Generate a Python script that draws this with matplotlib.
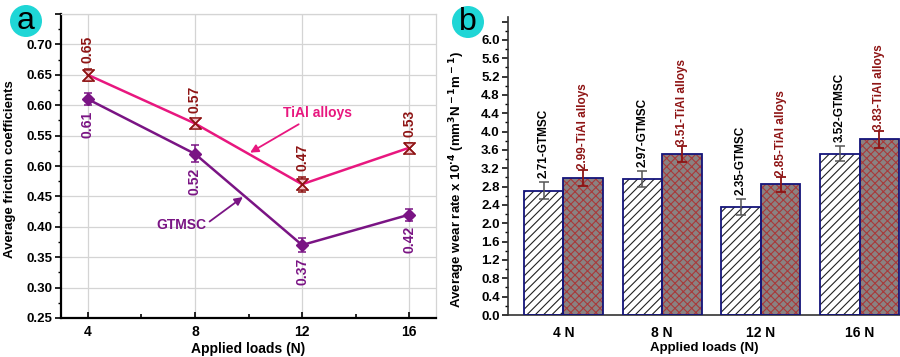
import matplotlib
matplotlib.use('Agg')
import matplotlib.pyplot as plt
import numpy as np
from matplotlib.path import Path
from matplotlib.patches import Ellipse
from matplotlib.ticker import MultipleLocator, FixedLocator

plt.rcParams['font.family'] = ['Liberation Sans', 'DejaVu Sans']
plt.rcParams['font.weight'] = 'bold'
plt.rcParams['hatch.linewidth'] = 0.8

# ---------------- data: panel a ----------------
loads = [4, 8, 12, 16]
tial_cof = [0.65, 0.57, 0.47, 0.53]
tial_cof_err = [0.010, 0.008, 0.012, 0.008]
gtmsc_cof = [0.61, 0.52, 0.37, 0.42]
gtmsc_cof_err = [0.010, 0.014, 0.012, 0.010]
cof_ticks = [0.25, 0.30, 0.35, 0.40, 0.45, 0.50, 0.55, 0.60, 0.65, 0.70, 0.75]
cof_ticklabels = ['0.25', '0.30', '0.35', '0.40', '0.45', '0.60', '0.55', '0.60', '0.65', '0.70', '']

# ---------------- data: panel b ----------------
load_labels = ['4 N', '8 N', '12 N', '16 N']
gtmsc_wear = [2.71, 2.97, 2.35, 3.52]
gtmsc_wear_err = [0.19, 0.17, 0.17, 0.17]
tial_wear = [2.99, 3.51, 2.85, 3.83]
tial_wear_err = [0.17, 0.17, 0.16, 0.18]
wear_ticks = [0.0, 0.4, 0.8, 1.2, 1.6, 2.0, 2.4, 2.8, 3.2, 3.6, 4.0, 4.4, 4.8, 5.2, 5.6, 6.0, 6.4]
wear_ticklabels = ['0.0', '0.4', '0.8', '1.2', '1.6', '2.0', '2.4', '2.8', '3.2', '3.6',
                   '4.0', '4.4', '4.8', '5.2', '5.6', '6.0', '']

PINK = '#e8177f'
PURPLE = '#7a1484'
DARKRED = '#8e1414'
NAVY = '#14147a'

fig = plt.figure(figsize=(9.0, 3.57), dpi=100)

# ================= panel a =================
ax1 = fig.add_axes([61/900, 1-318/357, 375/900, 304/357])
ax1.set_xlim(3, 17)
ax1.set_ylim(0.25, 0.75)
ax1.grid(True, color='#d4d4d4', lw=0.9, zorder=0)
ax1.set_axisbelow(True)

hourglass = Path([(-1, 1), (1, 1), (-1, -1), (1, -1), (-1, 1)],
                 [Path.MOVETO, Path.LINETO, Path.LINETO, Path.LINETO, Path.LINETO])

ax1.errorbar(loads, tial_cof, yerr=tial_cof_err, color=PINK, lw=1.8,
             ecolor=DARKRED, elinewidth=1.1, capsize=3, capthick=1.1,
             marker=hourglass, ms=8, mfc='#f0c0c8', mec=DARKRED, mew=1.1, zorder=3)
ax1.plot(loads, tial_cof, ls='none', marker='x', ms=8, mec=DARKRED, mew=1.0, zorder=4)
ax1.errorbar(loads, gtmsc_cof, yerr=gtmsc_cof_err, color=PURPLE, lw=1.8,
             ecolor=PURPLE, elinewidth=1.1, capsize=3, capthick=1.1,
             marker='D', ms=6.5, mfc=PURPLE, mec=PURPLE, zorder=3)

for x, y, e in zip(loads, tial_cof, tial_cof_err):
    ax1.annotate(f'{y:.2f}', (x, y + e), xytext=(0, 4), textcoords='offset points',
                 rotation=90, ha='center', va='bottom', color=DARKRED,
                 fontsize=10, fontweight='bold')
for x, y, e in zip(loads, gtmsc_cof, gtmsc_cof_err):
    ax1.annotate(f'{y:.2f}', (x, y - e), xytext=(0, -4), textcoords='offset points',
                 rotation=90, ha='center', va='top', color=PURPLE,
                 fontsize=10, fontweight='bold')

ax1.annotate('TiAl alloys', xy=(10.06, 0.522), xytext=(11.3, 0.587),
             color=PINK, fontsize=10, fontweight='bold', ha='left', va='center',
             arrowprops=dict(arrowstyle='-|>', color=PINK, lw=1.3, mutation_scale=12,
                             shrinkA=2, shrinkB=0))
ax1.annotate('GTMSC', xy=(9.79, 0.449), xytext=(7.51, 0.403),
             color=PURPLE, fontsize=10, fontweight='bold', ha='center', va='center',
             arrowprops=dict(arrowstyle='-|>', color=PURPLE, lw=1.3, mutation_scale=12,
                             shrinkA=0, shrinkB=0, relpos=(1.0, 0.6)))

ax1.xaxis.set_major_locator(FixedLocator(loads))
ax1.xaxis.set_minor_locator(FixedLocator([6, 10, 14]))
ax1.yaxis.set_major_locator(FixedLocator(cof_ticks))
ax1.set_yticklabels(cof_ticklabels)
ax1.yaxis.set_minor_locator(MultipleLocator(0.025))
ax1.tick_params(axis='x', which='both', direction='in', length=4, width=1.2, labelsize=10, pad=5)
ax1.tick_params(axis='x', which='minor', length=3)
ax1.tick_params(axis='y', which='major', direction='out', length=4, width=1.2, labelsize=9.5, pad=2)
ax1.tick_params(axis='y', which='minor', direction='out', length=2, width=1.0)
for lab in ax1.get_xticklabels() + ax1.get_yticklabels():
    lab.set_fontweight('bold')
for s in ['left', 'bottom']:
    ax1.spines[s].set_linewidth(1.6)
    ax1.spines[s].set_color('black')
for s in ['top', 'right']:
    ax1.spines[s].set_linewidth(0.9)
    ax1.spines[s].set_color('#d4d4d4')
ax1.set_xlabel('Applied loads (N)', fontsize=10, fontweight='bold', labelpad=2)
ax1.set_ylabel('Average friction coefficients', fontsize=9.5, fontweight='bold')
ax1.yaxis.set_label_coords(-0.12, 0.49)

# ================= panel b =================
ax2 = fig.add_axes([508/900, 1-315/357, 392/900, 298/357])
x = np.arange(len(load_labels))
w = 0.4
xg = x - w/2
xt = x + w/2

ax2.bar(xg, gtmsc_wear, w, color='white', edgecolor='#222222', hatch='////', lw=0, zorder=2)
ax2.bar(xg, gtmsc_wear, w, color='none', edgecolor=NAVY, lw=1.3, zorder=3)
ax2.bar(xt, tial_wear, w, color='#8a8282', edgecolor='none', lw=0, zorder=2)
ax2.bar(xt, tial_wear, w, color='none', edgecolor='#a83a3a', hatch='xxxx', lw=0, zorder=2.5)
ax2.bar(xt, tial_wear, w, color='none', edgecolor=NAVY, lw=1.3, zorder=3)

ax2.errorbar(xg, gtmsc_wear, yerr=gtmsc_wear_err, fmt='none', ecolor='#555555',
             elinewidth=1.1, capsize=3.5, capthick=1.1, zorder=4)
ax2.errorbar(xt, tial_wear, yerr=tial_wear_err, fmt='none', ecolor=DARKRED,
             elinewidth=1.3, capsize=3.5, capthick=1.3, zorder=4)

for xi, v, e in zip(xg, gtmsc_wear, gtmsc_wear_err):
    ax2.annotate(f'{v:.2f}-GTMSC', (xi, v + e), xytext=(0, 3), textcoords='offset points',
                 rotation=90, ha='center', va='bottom', color='black',
                 fontsize=8.5, fontweight='bold')
for xi, v, e in zip(xt, tial_wear, tial_wear_err):
    ax2.annotate(f'{v:.2f}-TiAl alloys', (xi, v + e), xytext=(0, 1), textcoords='offset points',
                 rotation=90, ha='center', va='bottom', color=DARKRED,
                 fontsize=8.5, fontweight='bold')

ax2.set_xlim(-0.56, 3.41)
ax2.set_ylim(0, 6.5)
ax2.set_xticks(x)
ax2.set_xticklabels(load_labels)
ax2.yaxis.set_major_locator(FixedLocator(wear_ticks))
ax2.set_yticklabels(wear_ticklabels)
ax2.yaxis.set_minor_locator(MultipleLocator(0.2))
ax2.tick_params(axis='x', length=0, labelsize=10, pad=8)
ax2.tick_params(axis='y', which='major', direction='out', length=4, width=1.1, labelsize=9.5, pad=2)
ax2.tick_params(axis='y', which='minor', direction='out', length=2.5, width=1.0)
for lab in ax2.get_xticklabels() + ax2.get_yticklabels():
    lab.set_fontweight('bold')
for s in ['top', 'right']:
    ax2.spines[s].set_visible(False)
for s in ['left', 'bottom']:
    ax2.spines[s].set_linewidth(1.2)
    ax2.spines[s].set_color('#333333')
ax2.set_xlabel('Applied loads (N)', fontsize=9.5, fontweight='bold', labelpad=1)
ax2.set_ylabel(r'Average wear rate x 10$^{\bf{\cdot 4}}$ (mm$^{\bf 3}$N$^{\bf -1}$m$^{\bf -1}$)',
               fontsize=9.5, fontweight='bold')
ax2.yaxis.set_label_coords(-0.105, 0.455)

# ================= panel letters =================
for cx, cy, letter in [(26, 21, 'a'), (468, 22, 'b')]:
    fig.add_artist(Ellipse((cx/900, 1-cy/357), 32/900, 32/357, transform=fig.transFigure,
                           facecolor='#1fd6d6', edgecolor='none', zorder=10))
    fig.text(cx/900, 1-cy/357, letter, ha='center', va='center', fontsize=23,
             fontweight='normal', color='black', zorder=11)

fig.savefig('out.png', dpi=100)
